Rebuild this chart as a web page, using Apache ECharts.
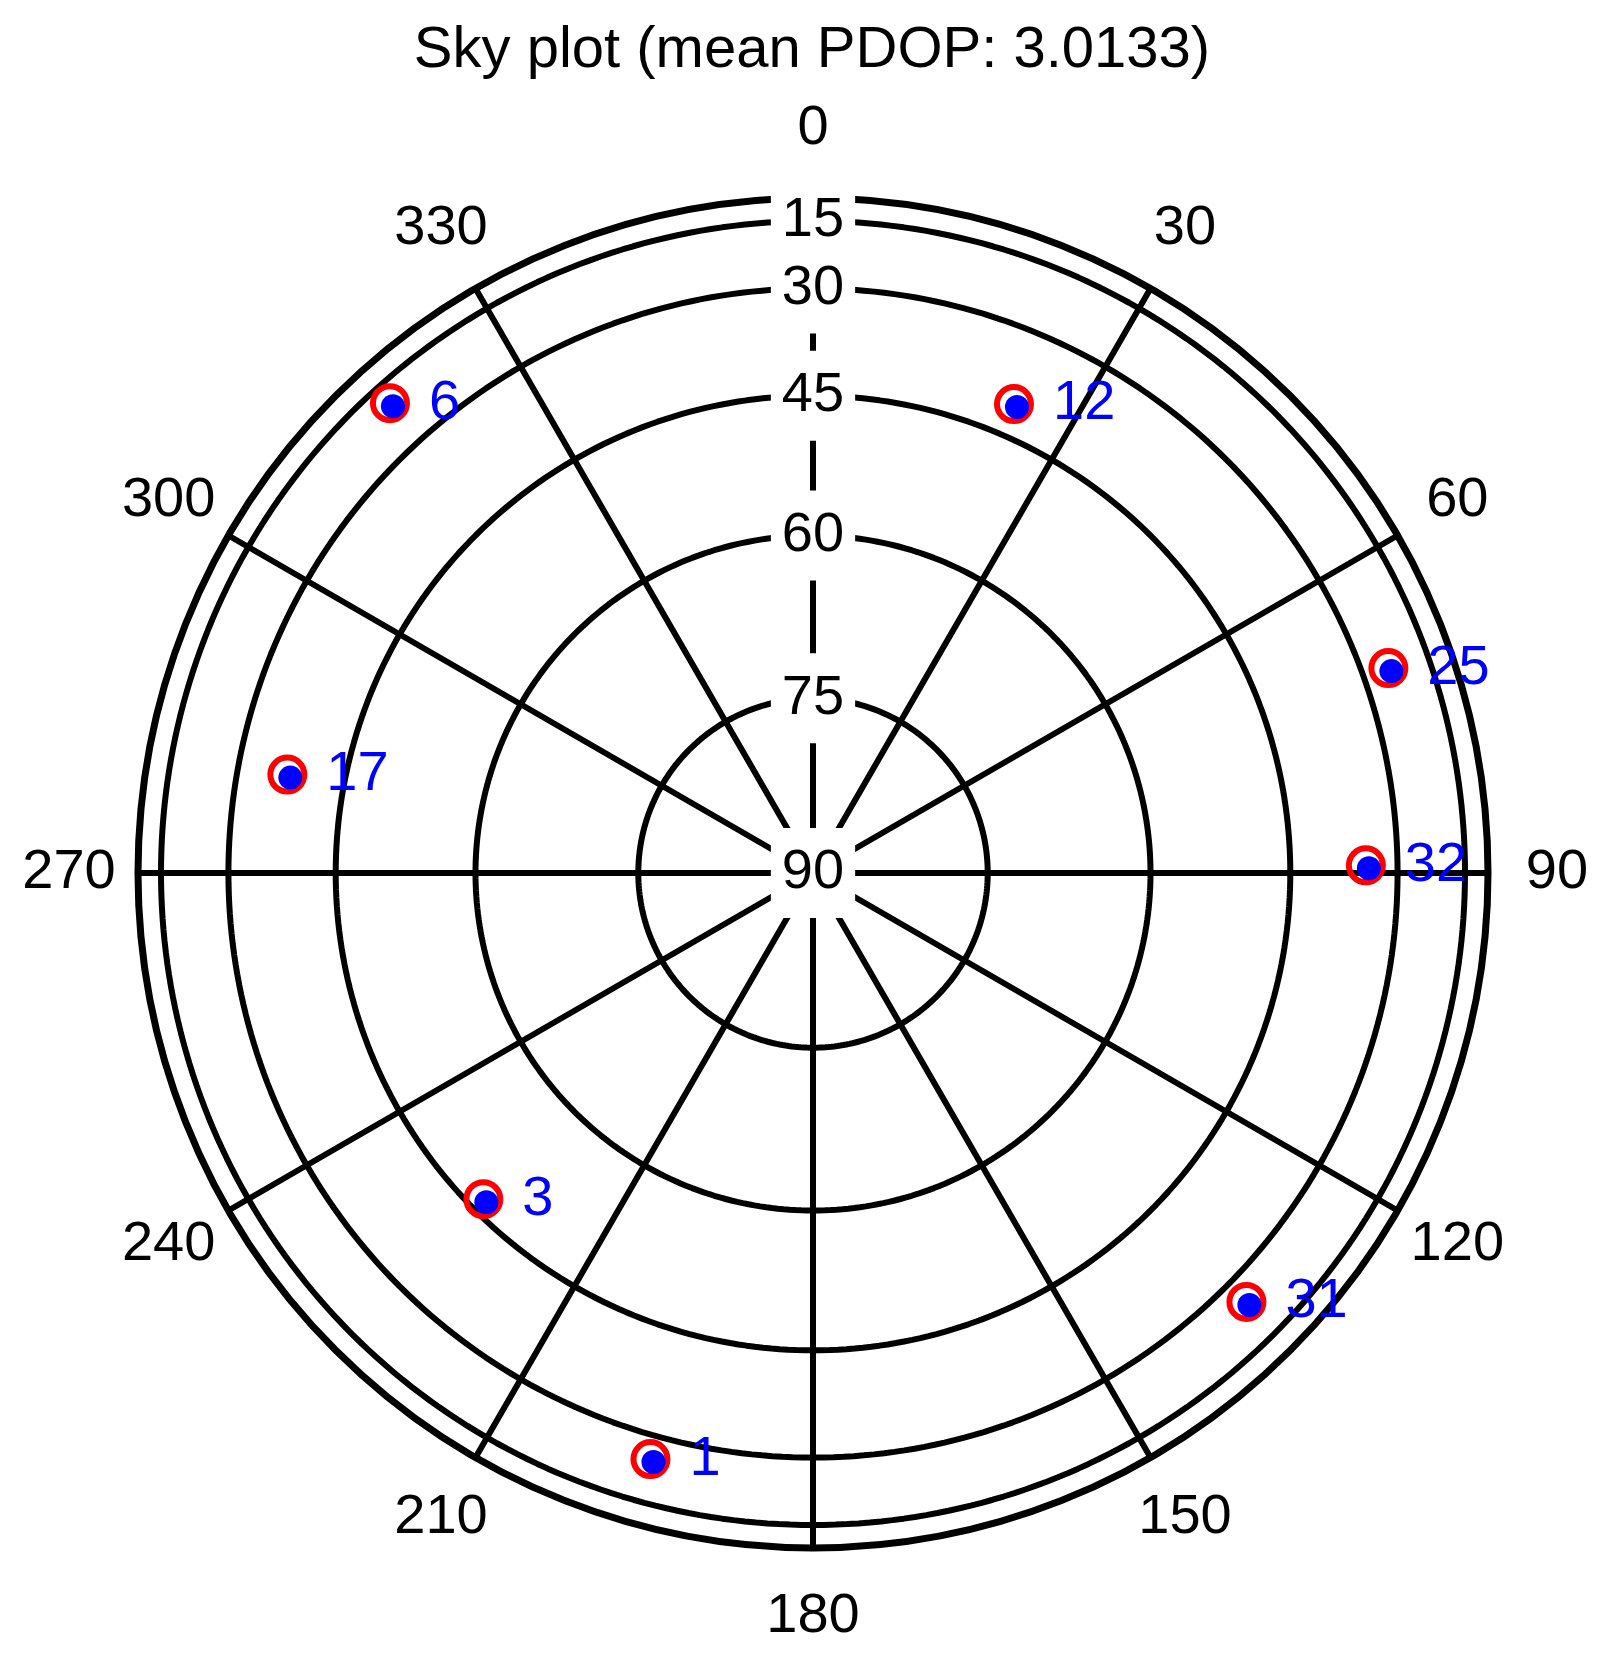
<!DOCTYPE html>
<html><head><meta charset="utf-8">
<script src="https://cdn.jsdelivr.net/npm/echarts@6/dist/echarts.min.js"></script>
<style>html,body{margin:0;padding:0;background:#fff}#c{width:1603px;height:1659px}</style>
</head><body><div id="c"></div>
<script>
const azimuthTicks = [0, 30, 60, 90, 120, 150, 180, 210, 240, 270, 300, 330];
const azimuthTickLabels = ['0', '30', '60', '90', '120', '150', '180', '210', '240', '270', '300', '330'];
const elevationRings = [15, 30, 45, 60, 75];
const elevationTickValues = [15, 30, 45, 60, 75, 90];
const elevationTickLabels = ['15', '30', '45', '60', '75', '90'];
const prns = [6, 12, 25, 17, 32, 3, 31, 1];
const azimuths = [318.0, 23.2, 70.4, 280.6, 89.2, 225.3, 134.7, 195.5];
const elevations = [20.5, 40.9, 25.2, 37.6, 35.0, 46.6, 25.4, 25.7];
const titleText = 'Sky plot (mean PDOP: 3.0133)';

const FONT = 'Liberation Sans, Arial, sans-serif';
const toR = el => Math.cos(el * Math.PI / 180);
const LABEL_R = 1.1022;

const ringSeries = elevationRings.map(el => {
  const d = [];
  for (let a = 0; a <= 360; a += 1) d.push([toR(el), a]);
  return {
    type: 'line', coordinateSystem: 'polar', data: d, showSymbol: false, silent: true,
    lineStyle: { color: '#000', width: 6, opacity: 1 }, z: 2, clip: false
  };
});

const satData = prns.map((p, i) => ({ value: [toR(elevations[i]), azimuths[i]], name: String(p) }));

const option = {
  animation: false,
  backgroundColor: '#fff',
  title: {
    text: titleText, left: 807, top: 17, textAlign: 'center',
    textStyle: { fontFamily: FONT, fontSize: 58, fontWeight: 'normal', color: '#000' }
  },
  polar: { center: [813, 873], radius: 675 },
  angleAxis: {
    type: 'value', min: 0, max: 360, interval: 30, startAngle: 90, clockwise: true,
    axisLine: { show: true, lineStyle: { color: '#000', width: 7 } },
    axisTick: { show: false }, axisLabel: { show: false },
    splitLine: { show: true, lineStyle: { color: '#000', width: 6 } }
  },
  radiusAxis: {
    type: 'value', min: 0, max: 1, show: false,
    axisLine: { show: false }, axisTick: { show: false }, axisLabel: { show: false }, splitLine: { show: false }
  },
  series: [
    ...ringSeries,
    {
      type: 'scatter', coordinateSystem: 'polar', clip: false, silent: true, z: 5,
      symbolSize: 1, itemStyle: { color: 'rgba(0,0,0,0)', opacity: 1 },
      data: azimuthTicks.map((a, i) => ({ value: [LABEL_R, a], name: azimuthTickLabels[i] })),
      label: { show: true, position: 'inside', formatter: p => p.name, fontFamily: FONT, fontSize: 56, color: '#000' }
    },
    {
      type: 'scatter', coordinateSystem: 'polar', clip: false, silent: true, z: 5,
      symbolSize: 1, itemStyle: { color: 'rgba(0,0,0,0)', opacity: 1 },
      data: elevationTickValues.map((e, i) => ({ value: [toR(e), 0], name: elevationTickLabels[i] })),
      label: {
        show: true, position: 'inside', formatter: p => p.name, fontFamily: FONT, fontSize: 56, color: '#000',
        backgroundColor: '#fff', padding: [14, 11, 14, 11], lineHeight: 62
      }
    },
    {
      type: 'scatter', coordinateSystem: 'polar', clip: false, silent: true, z: 6,
      symbol: 'circle', symbolSize: 34,
      itemStyle: { color: 'rgba(255,255,255,0)', borderColor: '#ff0000', borderWidth: 6, opacity: 1 },
      data: satData,
      label: { show: true, position: 'right', distance: 19, formatter: p => p.name, fontFamily: FONT, fontSize: 56, color: '#0000ff' }
    },
    {
      type: 'scatter', coordinateSystem: 'polar', clip: false, silent: true, z: 7,
      symbol: 'circle', symbolSize: 24, symbolOffset: [3, 3],
      itemStyle: { color: '#0000ff', opacity: 1 },
      data: satData
    }
  ]
};
const chart = echarts.init(document.getElementById('c'), null, { renderer: 'canvas' });
chart.setOption(option);
</script></body></html>
